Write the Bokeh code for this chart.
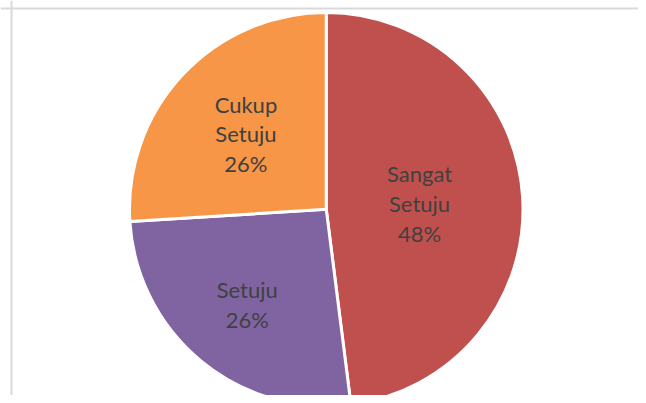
import math
from bokeh.plotting import figure
from bokeh.models import ColumnDataSource, Range1d, Span
from bokeh.core.properties import value
from bokeh.embed import file_html
from bokeh.resources import INLINE

# ---- data ----
categories = ["Sangat Setuju", "Setuju", "Cukup Setuju"]
label_texts = ["Sangat\nSetuju", "Setuju", "Cukup\nSetuju"]
values = [48, 26, 26]
colors = ["#C0504D", "#8064A2", "#F79646"]
label_radius = [0.475, 0.63, 0.56]  # fraction of radius where labels sit

# ---- geometry (style) ----
W, H = 638, 395
R_PX = 196.75
CX_PX, CY_PX = 325.75, 208.75  # pie centre in frame pixels (from left, from top)

total = float(sum(values))
starts, ends, mids = [], [], []
cum = 0.0
for v in values:
    f0 = cum / total
    cum += v
    f1 = cum / total
    starts.append(math.pi / 2 - 2 * math.pi * f0)
    ends.append(math.pi / 2 - 2 * math.pi * f1)
    mids.append(math.pi / 2 - 2 * math.pi * (f0 + f1) / 2)

pct = [f"{round(v / total * 100)}%" for v in values]
lx = [label_radius[i] * math.cos(mids[i]) for i in range(len(values))]
ly = [label_radius[i] * math.sin(mids[i]) for i in range(len(values))]
labels = [f"{label_texts[i]}\n{pct[i]}" for i in range(len(values))]

src = ColumnDataSource(dict(cat=categories, val=values, start=starts, end=ends,
                            color=colors, lx=lx, ly=ly, label=labels))

x0 = -CX_PX / R_PX
x1 = (W - CX_PX) / R_PX
y1 = CY_PX / R_PX
y0 = -(H - CY_PX) / R_PX

p = figure(width=W, height=H, output_backend="svg", toolbar_location=None,
           x_range=Range1d(x0, x1), y_range=Range1d(y0, y1),
           min_border=0, min_border_left=0, min_border_right=0,
           min_border_top=0, min_border_bottom=0)
p.axis.visible = False
p.grid.visible = False
p.outline_line_color = None
p.background_fill_color = "white"
p.border_fill_color = "white"

p.wedge(x=0, y=0, radius=1.0, start_angle="start", end_angle="end",
        direction="clock", fill_color="color", line_color="white",
        line_width=3, source=src)

p.text(x="lx", y="ly", text="label", source=src,
       text_font=value("Lato"), text_font_size="22px",
       text_color="#404040", text_align="center", text_baseline="middle",
       text_line_height=1.1)

# chart-area border (left and top only visible)
p.add_layout(Span(location=x0 + 11 / R_PX, dimension="height",
                  line_color="#d9d9d9", line_width=2))
p.add_layout(Span(location=y1 - 8 / R_PX, dimension="width",
                  line_color="#d9d9d9", line_width=2))

open("out.html", "w").write(file_html(p, INLINE))
